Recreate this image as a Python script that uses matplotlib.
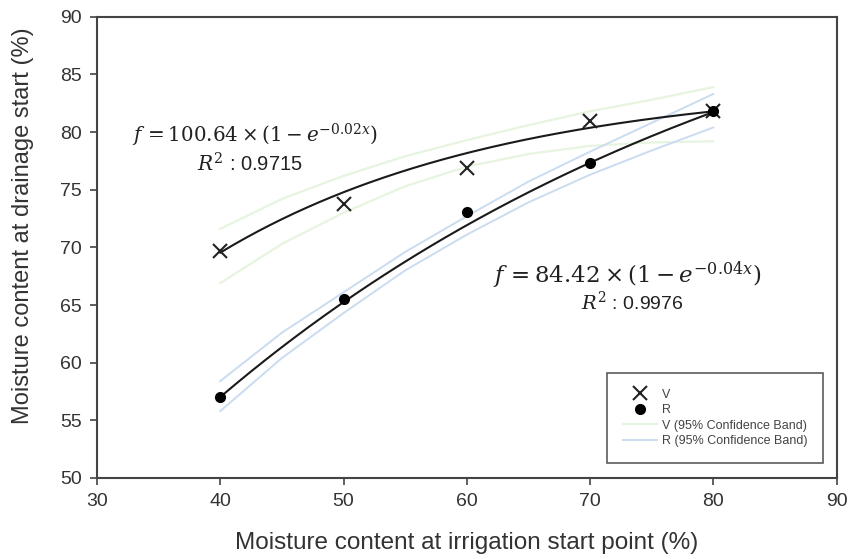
import numpy as np
import matplotlib
matplotlib.use("Agg")
import matplotlib.pyplot as plt

plt.rcParams['font.family'] = ['Liberation Sans', 'DejaVu Sans']
plt.rcParams['mathtext.fontset'] = 'dejavuserif'

# Observed values
x_obs = [40, 50, 60, 70, 80]
v_obs = [69.7, 73.8, 76.9, 81.0, 81.8]
r_obs = [57.0, 65.5, 73.1, 77.3, 81.8]

# Exponential fit parameters: f = a * (1 - exp(-b x))
v_fit = [84.42, 0.0434]
r_fit = [100.64, 0.0209]

# 95% confidence band limits
x_band = [40, 45, 50, 55, 60, 65, 70, 75, 80]
v_band_upper = [71.6, 74.2, 76.2, 77.9, 79.3, 80.6, 81.8, 82.8, 83.9]
v_band_lower = [66.9, 70.3, 73.0, 75.3, 77.0, 78.1, 78.8, 79.1, 79.2]
r_band_upper = [58.4, 62.6, 66.1, 69.6, 72.7, 75.7, 78.3, 80.8, 83.3]
r_band_lower = [55.8, 60.4, 64.3, 68.0, 71.1, 73.9, 76.3, 78.4, 80.4]

x_ticks = [30, 40, 50, 60, 70, 80, 90]
y_ticks = [50, 55, 60, 65, 70, 75, 80, 85, 90]

text_color = '#333333'
spine_color = '#444444'

fig = plt.figure(figsize=(8.51, 5.59), dpi=100)
ax = fig.add_axes([0.114, 0.145, 0.869, 0.825])

xs = np.linspace(40, 80, 200)

def model(p, x):
    return p[0] * (1 - np.exp(-p[1] * x))

# confidence bands
ax.plot(x_band, v_band_upper, color='#e6f4e0', lw=1.6, zorder=1,
        label='V (95% Confidence Band)')
ax.plot(x_band, v_band_lower, color='#e6f4e0', lw=1.6, zorder=1)
ax.plot(x_band, r_band_upper, color='#cadcf0', lw=1.4, zorder=1,
        label='R (95% Confidence Band)')
ax.plot(x_band, r_band_lower, color='#cadcf0', lw=1.4, zorder=1)

# fitted curves
ax.plot(xs, model(v_fit, xs), color='#1a1a1a', lw=1.5, zorder=2)
ax.plot(xs, model(r_fit, xs), color='#1a1a1a', lw=1.5, zorder=2)

# observations
ax.plot(x_obs, v_obs, linestyle='none', marker='x', ms=10, mew=1.5,
        color='#222222', zorder=3, label='V')
ax.plot(x_obs, r_obs, linestyle='none', marker='o', ms=7,
        color='black', zorder=3, label='R')

ax.set_xlim(30, 90)
ax.set_ylim(50, 90)
ax.set_xticks(x_ticks)
ax.set_yticks(y_ticks)
ax.tick_params(direction='out', length=5, width=1.2, color=spine_color,
               labelsize=14, labelcolor=text_color, pad=6)
for s in ax.spines.values():
    s.set_color(spine_color)
    s.set_linewidth(1.5)

ax.set_xlabel('Moisture content at irrigation start point (%)', fontsize=17.5,
              color=text_color, labelpad=16)
ax.set_ylabel('Moisture content at drainage start (%)', fontsize=17,
              color=text_color)
ax.yaxis.set_label_coords(-0.085, 0.547)

# equations
ax.text(42.8, 79.7, r'$f\,=100.64\times(1-e^{-0.02x})$', fontsize=14.3,
        ha='center', va='center', color='#222222')
ax.text(42.4, 77.2, r'$R^2$ : 0.9715', fontsize=14.5,
        ha='center', va='center', color='#222222')
ax.text(73.0, 67.6, r'$f\,=84.42\times(1-e^{-0.04x})$', fontsize=16.5,
        ha='center', va='center', color='#222222')
ax.text(73.4, 65.2, r'$R^2$ : 0.9976', fontsize=14,
        ha='center', va='center', color='#222222')

handles, labels = ax.get_legend_handles_labels()
order = ['V', 'R', 'V (95% Confidence Band)', 'R (95% Confidence Band)']
hmap = dict(zip(labels, handles))
leg = ax.legend([hmap[k] for k in order], order, loc='lower right',
                bbox_to_anchor=(0.9815, 0.033), fontsize=9, frameon=True,
                fancybox=False, edgecolor='#333333', handlelength=2.7,
                handletextpad=0.4, borderpad=1.25, labelspacing=0.28,
                borderaxespad=0)
leg.get_frame().set_linewidth(1.2)
for t in leg.get_texts():
    t.set_color('#444444')

fig.savefig('out.png', dpi=100, facecolor='white')
